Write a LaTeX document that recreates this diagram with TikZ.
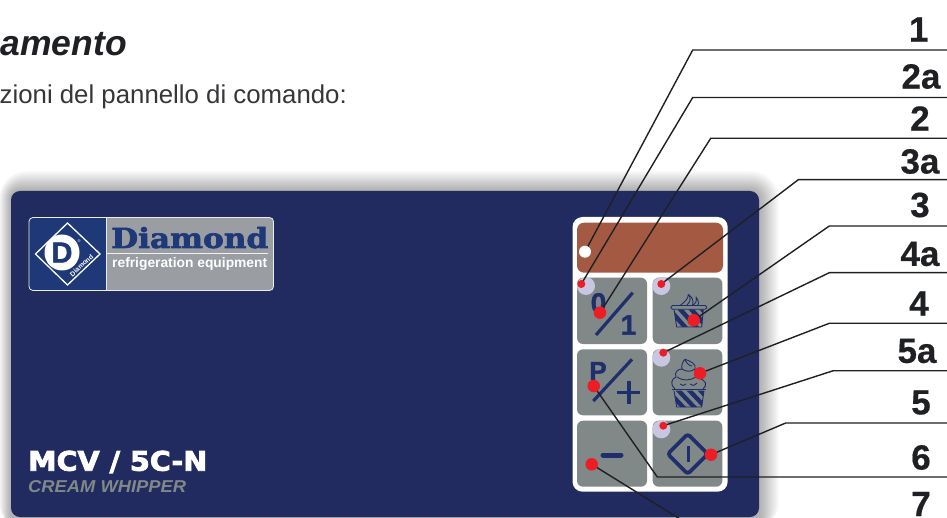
\documentclass[tikz,border=0pt]{standalone}
\usepackage{fontspec}
\usepackage{graphicx}
\setmainfont{Liberation Sans}
\newfontfamily\slabfont[FakeBold=2.2]{DejaVu Serif Bold}
\newfontfamily\widefont[FakeBold=3]{DejaVu Sans Bold}
\newfontfamily\heavyfont[FakeBold=1.6]{Liberation Sans Bold}
\newfontfamily\numfont[FakeBold=.5]{Liberation Sans Bold}
\usetikzlibrary{backgrounds}
\definecolor{navy}{HTML}{212B60}
\definecolor{logoblue}{HTML}{1F3878}
\definecolor{logogray}{HTML}{9A9EA3}
\definecolor{btn}{HTML}{808888}
\definecolor{brownpanel}{HTML}{A45A42}
\definecolor{lav}{HTML}{C9C6E2}
\definecolor{dotred}{HTML}{EE1C25}
\definecolor{ink}{HTML}{1F2023}
\definecolor{icon}{HTML}{1F2F6B}
\pgfdeclarelayer{top}
\pgfsetlayers{main,top}
\tikzset{
  btnbox/.style={fill=btn,rounded corners=6},
  leader/.style={draw=ink,line width=1.4,line join=miter},
  bigdot/.style={circle,fill=dotred,inner sep=0,minimum size=12.5},
  smalldot/.style={circle,fill=dotred,inner sep=0,minimum size=8},
  halo/.style={circle,fill=lav,inner sep=0,minimum size=18},
  numlabel/.style={inner sep=0,font=\numfont\fontsize{35}{35}\selectfont,text=ink},
  iconline/.style={draw=icon,line width=3.2},
  thinicon/.style={draw=icon,line width=.9,line join=round},
}
\begin{document}
\begin{tikzpicture}[x=1pt,y=-1pt]
\useasboundingbox (0,0) rectangle (947,518);
\clip (0,0) rectangle (947,518);
\fill[white] (0,0) rectangle (947,518);
% heading
\node[anchor=base east,inner sep=0,font=\bfseries\itshape\fontsize{35.5}{36}\selectfont,text=ink] (head) at (127,55.5) {amento};
\node[anchor=base east,inner sep=0,font=\fontsize{25.8}{26}\selectfont,text=ink!90] (sub) at (347,104) {zioni del pannello di comando:};
% soft shadow
\foreach \s in {20,19,...,1}{
  \fill[black,opacity=.016,rounded corners=\s+8] (11-\s*.6,191-\s) rectangle (759+\s,530);
}
% panel
\fill[navy,rounded corners=9] (11,191) rectangle (759,517);
% logo
\fill[logogray,rounded corners=4] (29,217.5) rectangle (273.5,290.5);
\begin{scope}
\clip[rounded corners=4] (29,217.5) rectangle (273.5,290.5);
\fill[logoblue] (29,217.5) rectangle (106,290.5);
\end{scope}
\draw[white!80!logogray,line width=.8,rounded corners=4] (29,217.5) rectangle (273.5,290.5);
\draw[white!80!logogray,line width=.8] (106,217.5) -- (106,290.5);
\draw[white,line width=1.3] (35.5,254) -- (67.5,223) -- (100,254) -- (67.5,285) -- cycle;
\fill[white] (62,252.5) ellipse (17.5 and 18);
\node[inner sep=0,font=\heavyfont\fontsize{29}{29}\selectfont,text=logoblue] (bigd) at (62,252.5) {D};
\node[inner sep=0,font=\fontsize{4}{4}\selectfont,text=white] (reg) at (79,241) {®};
\node[inner sep=0,rotate=43,font=\bfseries\fontsize{6.8}{7}\selectfont,text=white] (smallname) at (81.5,265.5) {Diamond};
\node[anchor=base west,inner sep=0,font=\slabfont\fontsize{29}{29}\selectfont,text=logoblue] (brand) at (111,248) {\resizebox{157pt}{21pt}{Diamond}};
\draw[white!85!logogray,line width=.8] (106.5,253) -- (268,253);
\node[anchor=base west,inner sep=0,font=\bfseries\fontsize{13}{13}\selectfont,text=white] (tag) at (112,268) {\resizebox{155pt}{!}{refrigeration equipment}};
% model
\node[anchor=base west,inner sep=0,font=\widefont\fontsize{27}{27}\selectfont,text=white] (model) at (28,470.7) {\resizebox{179pt}{20pt}{MCV / 5C-N}};
\node[anchor=base west,inner sep=0,font=\bfseries\itshape\fontsize{16.5}{17}\selectfont,text=btn] (kind) at (28,492.2) {\resizebox{158pt}{12pt}{CREAM WHIPPER}};
% control plate
\fill[white,rounded corners=10] (572.5,217) rectangle (727.7,491.7);
\fill[brownpanel,rounded corners=7] (577,222.7) rectangle (723,272.7);
\fill[btnbox] (577,277.7) rectangle (647,344);
\fill[btnbox] (652.7,277.7) rectangle (722.3,344);
\fill[btnbox] (577,349.3) rectangle (647,415.3);
\fill[btnbox] (652.7,349.3) rectangle (722.3,415.3);
\fill[btnbox] (577,420.7) rectangle (647,486.7);
\fill[btnbox] (652.7,420.7) rectangle (722.3,486.7);
% halos
\node[halo] (h2a) at (586,286) {};
\node[halo] (h3a) at (661.3,286) {};
\node[halo] (h4a) at (661.3,357.7) {};
\node[halo] (h5a) at (661.3,429.3) {};
% button 0/1
\node[inner sep=0,font=\heavyfont\fontsize{28}{28}\selectfont,text=icon] (zero) at (598.5,303) {0};
\node[inner sep=0,font=\heavyfont\fontsize{28}{28}\selectfont,text=icon] (one) at (628.5,325) {1};
\draw[iconline] (632.7,292.7) -- (596,335);
% button P/+
\node[inner sep=0,font=\heavyfont\fontsize{26}{26}\selectfont,text=icon] (pee) at (598,371) {P};
\draw[iconline] (632,359.3) -- (593.3,401);
\draw[icon,line width=3.6] (617.3,392.3) -- (640,392.3) (628.7,381) -- (628.7,403.6);
% button minus
\draw[icon,line width=5,line cap=round] (603,455) -- (621,455);
% button start
\draw[icon,line width=3.8,rounded corners=3,line join=round] (687.7,434) -- (707.7,454) -- (687.7,474) -- (667.7,454) -- cycle;
\draw[icon,line width=3] (688.7,446) -- (688.7,462);
% small cup
\begin{scope}
\clip (674,309.3) -- (703.3,309.3) -- (701.7,327) -- (676.7,327) -- cycle;
\foreach \d in {0,11,22,33}{
  \fill[icon] (666+\d,309) -- (672+\d,309) -- (688+\d,327) -- (682+\d,327) -- cycle;
}
\end{scope}
\draw[thinicon] (674,309.3) -- (676.7,327) -- (701.7,327) -- (703.3,309.3);
\draw[thinicon,rounded corners=1.5,fill=btn] (671,305.5) rectangle (706.7,309.3);
\draw[thinicon] (680,305.5) .. controls (686,301) and (688,299) .. (688.3,294.5) .. controls (692,297) and (694,300) .. (692.5,305.5);
\draw[thinicon] (687,305) .. controls (691,301) and (691,298) .. (688.3,294.5);
\draw[thinicon] (692.5,305.5) .. controls (696,303) and (697,301) .. (696,297) .. controls (698,299) and (699,302) .. (698,305.5);
% tall ice cream
\begin{scope}
\clip (674,390.7) -- (704,390.7) -- (701.7,407) -- (676.7,407) -- cycle;
\foreach \d in {0,11,22,33}{
  \fill[icon] (664+\d,390) -- (670+\d,390) -- (686+\d,407) -- (680+\d,407) -- cycle;
}
\end{scope}
\draw[thinicon] (674,390.7) -- (676.7,407) -- (701.7,407) -- (704,390.7);
\draw[thinicon] (672,389) -- (706,389);
\draw[thinicon] (675,389) .. controls (670,385) and (671,379) .. (676,377) .. controls (674,372) and (678,369) .. (682,369) .. controls (681,365) and (683,361) .. (685,359.3) .. controls (690,361) and (697,364) .. (695,369) .. controls (699,371) and (699,375) .. (698,378) .. controls (706,380) and (708,385) .. (703,389);
\draw[thinicon] (677,377) .. controls (682,381) and (690,381) .. (696,377);
\draw[thinicon] (682,369) .. controls (686,372) and (691,372) .. (695,369);
\draw[thinicon] (685,360) .. controls (687,364) and (690,366) .. (692,366);
\draw[thinicon] (680,384) .. controls (682,386) and (684,386) .. (686,384) (690,384) .. controls (692,386) and (694,386) .. (697,383);
% dots
\begin{pgfonlayer}{top}
\node[circle,fill=white,inner sep=0,minimum size=12] (d1) at (585,251.7) {};
\node[smalldot] (d2a) at (581.3,284) {};
\node[bigdot] (d2) at (600,312.7) {};
\node[smalldot] (d3a) at (661.3,284) {};
\node[bigdot] (d3) at (693.7,320.3) {};
\node[smalldot] (d4a) at (663.3,352.7) {};
\node[bigdot] (d4) at (700,373.3) {};
\node[smalldot] (d5a) at (663.3,425.7) {};
\node[bigdot] (d5) at (711,454.7) {};
\node[bigdot] (d6) at (593.7,386) {};
\node[bigdot] (d7) at (591.7,464.3) {};
\end{pgfonlayer}
% leader bends and free ends
\coordinate (e1) at (947,50);
\coordinate (e2a) at (947,97.5);
\coordinate (e2) at (947,138.3);
\coordinate (e3a) at (947,179.7);
\coordinate (e3) at (947,226);
\coordinate (e4a) at (947,272.7);
\coordinate (e4) at (947,323.3);
\coordinate (e5a) at (947,370.7);
\coordinate (e5) at (947,423);
\coordinate (e6) at (947,477);
\coordinate (e7) at (680,519);
\draw[leader] (d1.center) -- (692.7,50) -- (e1);
\draw[leader] (d2a.center) -- (692.7,97.5) -- (e2a);
\draw[leader] (d2.center) -- (710.7,138.3) -- (e2);
\draw[leader] (d3a.center) -- (798.3,179.7) -- (e3a);
\draw[leader] (d3.center) -- (829.3,226) -- (e3);
\draw[leader] (d4a.center) -- (829.3,272.7) -- (e4a);
\draw[leader] (d4.center) -- (829.3,323.3) -- (e4);
\draw[leader] (d5a.center) -- (833.3,370.7) -- (e5a);
\draw[leader] (d5.center) -- (785.7,423) -- (e5);
\draw[leader] (d6.center) -- (657.3,477) -- (e6);
\draw[leader] (d7.center) -- (e7);
% labels
\node[numlabel] (l1) at (918.7,29.5) {1};
\node[numlabel] (l2a) at (921,76.5) {2a};
\node[numlabel] (l2) at (920,118.5) {2};
\node[numlabel] (l3a) at (920,161.5) {3a};
\node[numlabel] (l3) at (920,205) {3};
\node[numlabel] (l4a) at (920,254) {4a};
\node[numlabel] (l4) at (919,303.5) {4};
\node[numlabel] (l5a) at (917,351) {5a};
\node[numlabel] (l5) at (921,402.5) {5};
\node[numlabel] (l6) at (921,457.5) {6};
\node[numlabel] (l7) at (921,504) {7};
\end{tikzpicture}
\end{document}
